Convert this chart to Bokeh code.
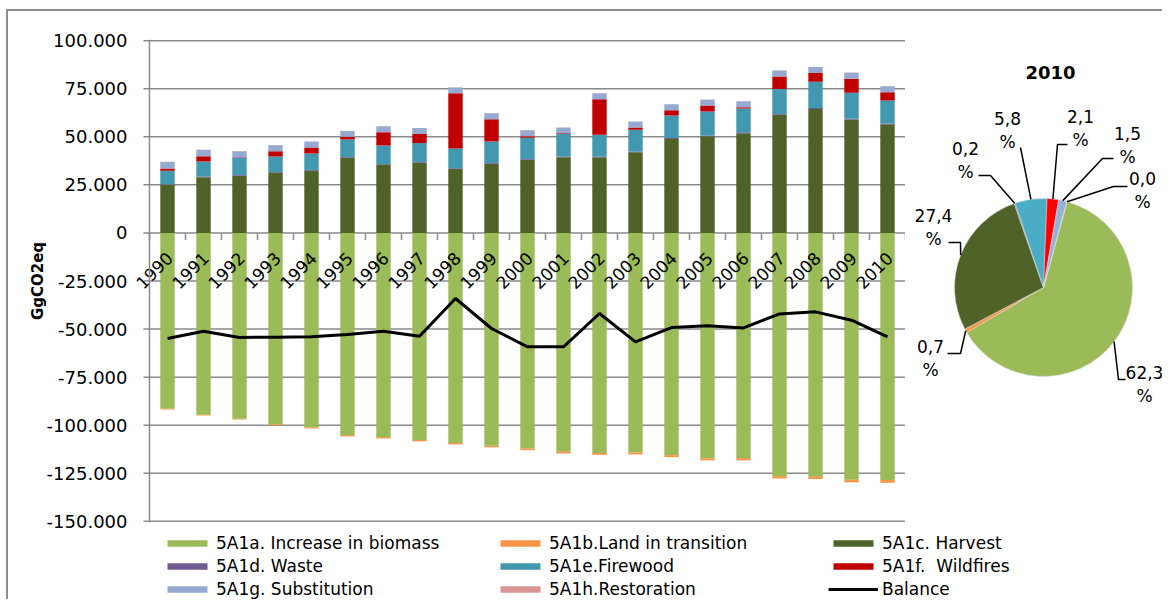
import math
from bokeh.plotting import figure
from bokeh.models import ColumnDataSource, Range1d, FixedTicker, Legend, LegendItem, Span
from bokeh.layouts import column, row
from bokeh.embed import file_html
from bokeh.resources import INLINE
from bokeh.core.properties import value

# ---------------- data (GgCO2eq) ----------------
YEARS = [1990, 1991, 1992, 1993, 1994, 1995, 1996, 1997, 1998, 1999, 2000,
         2001, 2002, 2003, 2004, 2005, 2006, 2007, 2008, 2009, 2010]

biomass = [-91500, -94500, -96600, -99600, -101100, -105100, -106200, -107650, -109200, -110650, -112100,
           -113750, -114400, -114200, -115550, -117200, -117150, -126500, -126750, -128350, -128520]
land = [-300, -400, -400, -500, -600, -700, -700, -750, -800, -850, -900,
        -950, -1000, -1000, -1050, -1100, -1150, -1200, -1250, -1350, -1450]
harvest = [25000, 28900, 29700, 31300, 32300, 39100, 35400, 36500, 33200, 36000, 38000,
           39400, 39400, 42000, 48900, 50300, 51900, 61400, 64500, 59000, 56500]
waste = [380, 390, 390, 400, 400, 400, 410, 410, 400, 400, 410,
         410, 400, 400, 410, 410, 410, 420, 420, 410, 410]
firewood = [6900, 7850, 8950, 8050, 8600, 9100, 9650, 9800, 10300, 11150, 11050,
            11700, 11200, 11200, 11700, 12400, 12350, 13050, 13750, 13550, 11950]
wildfires = [1200, 2750, 350, 2750, 3100, 1400, 6900, 4700, 28700, 11600, 850,
             350, 18500, 1200, 2750, 3100, 700, 6550, 4500, 7250, 4330]
substitution = [3450, 3300, 3100, 3100, 3100, 2950, 3100, 3100, 3100, 3100, 3100,
                2950, 3100, 3100, 3100, 3100, 3100, 3100, 3100, 3100, 3100]
restoration = [80, 80, 80, 80, 80, 80, 80, 80, 80, 80, 80,
               80, 80, 80, 80, 80, 80, 80, 80, 80, 80]
balance = [-54900, -51100, -54400, -54200, -54000, -52800, -51100, -53700, -34100, -49700, -59250,
           -59250, -41900, -56650, -49200, -48300, -49400, -42100, -41050, -45400, -54050]

SERIES_KEYS = ["biomass", "land", "harvest", "waste", "firewood", "wildfires", "substitution", "restoration"]
SERIES_LABELS = ["5A1a. Increase in biomass", "5A1b.Land in transition", "5A1c. Harvest",
                 "5A1d. Waste", "5A1e.Firewood", "5A1f.  Wildfires",
                 "5A1g. Substitution", "5A1h.Restoration"]
BALANCE_LABEL = "Balance"

Y_TICKS = [-150000, -125000, -100000, -75000, -50000, -25000, 0, 25000, 50000, 75000, 100000]
Y_TICK_LABELS = ["-150.000", "-125.000", "-100.000", "-75.000", "-50.000", "-25.000", "0",
                 "25.000", "50.000", "75.000", "100.000"]
Y_TITLE = "GgCO2eq"
PIE_YEAR = 2010

# ---------------- style ----------------
FONT = "DejaVu Sans"
BAR_COLORS = ["#9BBB59", "#F79646", "#4F6228", "#705A8F", "#4198AF", "#C00000", "#95A9D2", "#D99694"]
PIE_COLORS = ["#9BBB59", "#F79646", "#4F6228", "#7F6084", "#4BACC6", "#FF0000", "#95B3D7", "#D99694"]
GRID = "#8a8a8a"

series = dict(biomass=biomass, land=land, harvest=harvest, waste=waste, firewood=firewood,
              wildfires=wildfires, substitution=substitution, restoration=restoration)
src = ColumnDataSource(dict(year=YEARS, label=[str(y) for y in YEARS], zero=[0] * len(YEARS),
                            balance=balance, **series))

TOP_B, BOT_B = 28, 11          # borders shared by the two top panels
FIG_H = 522
LEFT_PAD_PX = 21               # room left of the value axis for the first rotated year label
PX_PER_CAT = 36.0

x_lo = YEARS[0] - 0.5
x_hi = YEARS[-1] + 0.5

# ---------------- bar chart ----------------
pa = figure(width=897, height=FIG_H,
            x_range=Range1d(x_lo - LEFT_PAD_PX / PX_PER_CAT, x_hi),
            y_range=Range1d(-150600, 100600),
            x_axis_location=None, output_backend="svg", toolbar_location=None, title=None,
            min_border_left=141 - LEFT_PAD_PX, min_border_right=0,
            min_border_top=TOP_B, min_border_bottom=BOT_B)
pa.outline_line_color = None
pa.background_fill_color = "white"
pa.xgrid.visible = False
pa.ygrid.visible = False

ax = pa.yaxis[0]
ax.ticker = FixedTicker(ticks=Y_TICKS)
ax.major_label_overrides = {t: l for t, l in zip(Y_TICKS, Y_TICK_LABELS)}
ax.axis_line_color = None
ax.major_tick_line_color = None
ax.major_tick_out = 0
ax.major_tick_in = 0
ax.minor_tick_line_color = None
ax.major_label_text_font = FONT
ax.major_label_text_font_size = "18px"
ax.major_label_text_color = "black"
ax.major_label_standoff = 1
ax.axis_label = Y_TITLE
ax.axis_label_text_font = FONT
ax.axis_label_text_font_size = "15px"
ax.axis_label_text_font_style = "bold"
ax.axis_label_text_color = "black"
ax.axis_label_standoff = -3

# horizontal grid lines spanning the category area only
gsrc = ColumnDataSource(dict(y=Y_TICKS, x0=[x_lo] * len(Y_TICKS), x1=[x_hi] * len(Y_TICKS)))
pa.segment(x0="x0", x1="x1", y0="y", y1="y", source=gsrc, line_color=GRID, line_width=1.5)
# value-axis tick marks (outside) and axis line
pa.ray(x="x0", y="y", length=6, length_units="screen", angle=math.pi,
       line_color=GRID, line_width=1.5, source=gsrc)
pa.add_layout(Span(location=x_lo, dimension="height", line_color=GRID, line_width=1.5))

neg_keys = SERIES_KEYS[:2]
pos_keys = SERIES_KEYS[2:]
pa.vbar_stack(neg_keys, x="year", width=0.4, source=src,
              fill_color=BAR_COLORS[:2], line_color=None)
pa.vbar_stack(pos_keys, x="year", width=0.4, source=src,
              fill_color=BAR_COLORS[2:], line_color=None)
pa.line("year", "balance", source=src, line_color="black", line_width=3)

# category boundary ticks on the zero line
bsrc = ColumnDataSource(dict(x=[y - 0.5 for y in YEARS] + [x_hi], y=[0] * (len(YEARS) + 1)))
pa.ray(x="x", y="y", length=7, length_units="screen", angle=-math.pi / 2,
       line_color=GRID, line_width=1.5, source=bsrc)

# rotated category labels hanging below the zero line
pa.text(x="year", y="zero", text="label", source=src, angle=math.pi / 4,
        text_align="right", text_baseline="middle", x_offset=2, y_offset=22,
        text_font=value(FONT), text_font_size="17px", text_color="black")

# ---------------- pie chart ----------------
PW = 257
PFH = FIG_H - TOP_B - BOT_B   # frame height (aligned with the bar chart frame)
pb = figure(width=PW, height=FIG_H, x_range=Range1d(0, PW), y_range=Range1d(0, PFH),
            x_axis_location=None, y_axis_location=None, output_backend="svg",
            toolbar_location=None, title=None,
            min_border_left=0, min_border_right=0, min_border_top=TOP_B, min_border_bottom=BOT_B)
pb.outline_line_color = None
pb.xgrid.visible = False
pb.ygrid.visible = False

idx = YEARS.index(PIE_YEAR)
pie_vals = [abs(series[k][idx]) for k in SERIES_KEYS]
total = sum(pie_vals)
CX, CY, R = 138, 235, 89
START_DEG = 15.4  # first slice angle, clockwise from 12 o'clock
starts, ends, mids = [], [], []
acc = START_DEG
for v in pie_vals:
    d = v / total * 360.0
    starts.append(acc)
    mids.append(acc + d / 2)
    acc += d
    ends.append(acc)
psrc = ColumnDataSource(dict(
    start=[math.radians(90 - s) for s in starts],
    end=[math.radians(90 - e) for e in ends],
    color=PIE_COLORS))
pb.wedge(x=CX, y=CY, radius=R, start_angle="start", end_angle="end", direction="clock",
         fill_color="color", line_color="#dddddd", line_width=0.5, source=psrc)

# label layout (pixel positions inside pie panel frame)
LABEL_POS = [(239, 138), (25, 164), (28, 295), (60, 362), (102, 392), (175, 394), (222, 377), (237, 332)]
ELBOW_POS = [(213, 143), (55, 169), (55, 280), (85, 347), (115, 375), (152, 378), (197, 364), (208, 336)]
END_POS = [(220, 143), (42, 169), (43, 280), (73, 347), (115, 375), (162, 378), (208, 364), (222, 336)]

xs, ys = [], []
for m, el, en in zip(mids, ELBOW_POS, END_POS):
    ex = CX + R * math.sin(math.radians(m))
    ey = CY + R * math.cos(math.radians(m))
    xs.append([ex, el[0], en[0]])
    ys.append([ey, el[1], en[1]])
pb.multi_line(xs, ys, line_color="black", line_width=1.5)

ltxt = [("%.1f" % (v / total * 100)).replace(".", ",") + "\n%" for v in pie_vals]
lsrc = ColumnDataSource(dict(x=[p[0] for p in LABEL_POS], y=[p[1] for p in LABEL_POS], t=ltxt))
pb.text(x="x", y="y", text="t", source=lsrc, text_align="center", text_baseline="middle",
        text_font=value(FONT), text_font_size="17px", text_color="black", text_line_height=1.15)
tsrc = ColumnDataSource(dict(x=[145], y=[450], t=[str(PIE_YEAR)]))
pb.text(x="x", y="y", text="t", source=tsrc, text_align="center", text_baseline="middle",
        text_font=value(FONT), text_font_size="18px", text_font_style="bold", text_color="black")

# ---------------- legend panel ----------------
pc = figure(width=1154, height=66, x_range=Range1d(0, 1), y_range=Range1d(0, 1),
            x_axis_location=None, y_axis_location=None, output_backend="svg",
            toolbar_location=None, title=None, min_border=0)
pc.outline_line_color = None
pc.xgrid.visible = False
pc.ygrid.visible = False
items = []
for k, lab, col in zip(SERIES_KEYS, SERIES_LABELS, BAR_COLORS):
    r = pc.vbar(x="year", top=k, width=0.4, source=src, fill_color=col, line_color=None)
    items.append(LegendItem(label=lab, renderers=[r]))
rl = pc.line("year", "balance", source=src, line_color="black", line_width=3)
items.append(LegendItem(label=BALANCE_LABEL, renderers=[rl]))

leg = Legend(items=items, ncols=3, orientation="horizontal", location=(154, 0),
             glyph_width=50, glyph_height=8, label_height=16, label_width=276,
             label_standoff=4, spacing=3, padding=0, margin=0,
             border_line_color=None, background_fill_alpha=0,
             label_text_font=FONT, label_text_font_size="17px", label_text_color="black")
pc.add_layout(leg)

layout = column(row(pa, pb), pc,
                styles={"margin-left": "6px", "margin-top": "9px",
                        "border-left": "2px solid #8c8c8c", "border-top": "2px solid #8c8c8c"})

open("out.html", "w").write(file_html(layout, INLINE))
